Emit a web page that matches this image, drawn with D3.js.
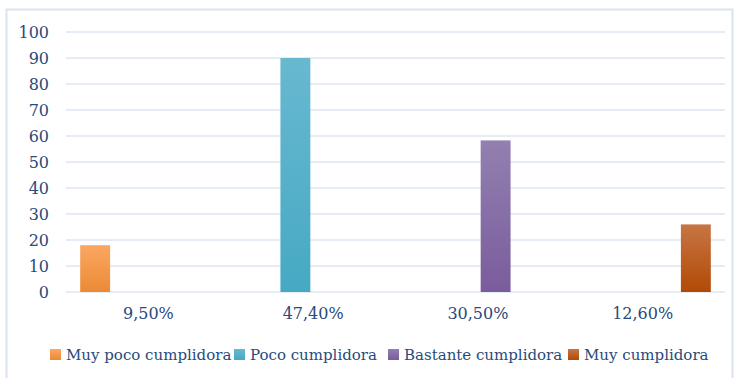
<!DOCTYPE html>
<html>
<head>
<meta charset="utf-8">
<script src="https://cdn.jsdelivr.net/npm/d3@7"></script>
<style>
  body { margin: 0; background: #fff; }
  text { font-family: "DejaVu Serif", "Liberation Serif", serif; fill: #284A7C; }
</style>
</head>
<body>
<div id="chart"></div>
<script>
// categories (x axis) and series
var categories = ["9,50%", "47,40%", "30,50%", "12,60%"];
var seriesNames = ["Muy poco cumplidora", "Poco cumplidora", "Bastante cumplidora", "Muy cumplidora"];
// each series only has a value in its own category
var seriesValues = [
    [18, null, null, null],
    [null, 90, null, null],
    [null, null, 58.3, null],
    [null, null, null, 26]
];
var yTicks = [0, 10, 20, 30, 40, 50, 60, 70, 80, 90, 100];
var colorsTop = ["#FBA762", "#68B8D0", "#9280B0", "#C77544"];
var colorsBottom = ["#EB8A35", "#46A9C4", "#7A5C9C", "#B24A06"];

var svgWidth = 734;
var svgHeight = 378;

var margin = { top: 32, right: 9, bottom: 86, left: 66 };
var width = svgWidth - margin.left - margin.right;
var height = svgHeight - margin.top - margin.bottom;

var svg = d3.select("#chart")
    .append("svg")
    .attr("width", svgWidth)
    .attr("height", svgHeight);

// outer chart border
svg.append("rect")
    .attr("x", 6.5).attr("y", 9.5)
    .attr("width", 726).attr("height", 375)
    .attr("fill", "none")
    .attr("stroke", "#D9E3F0")
    .attr("stroke-width", 2);

var defs = svg.append("defs");
seriesNames.forEach(function(s, i) {
    var g = defs.append("linearGradient")
        .attr("id", "grad" + i)
        .attr("x1", 0).attr("y1", 0).attr("x2", 0).attr("y2", 1);
    g.append("stop").attr("offset", "0%").attr("stop-color", colorsTop[i]);
    g.append("stop").attr("offset", "100%").attr("stop-color", colorsBottom[i]);
});

var chartGroup = svg.append("g")
    .attr("transform", `translate(${margin.left}, ${margin.top})`);

var xScale = d3.scaleBand()
    .domain(categories)
    .range([0, width]);

var xInner = d3.scaleBand()
    .domain(d3.range(seriesNames.length))
    .range([0, xScale.bandwidth()])
    .paddingInner(0.157)
    .paddingOuter(0.4);

var yScale = d3.scaleLinear()
    .domain([0, 100])
    .range([height, 0]);

// gridlines
chartGroup.selectAll(".grid")
    .data(yTicks)
    .enter()
    .append("line")
    .attr("x1", 0)
    .attr("x2", width)
    .attr("y1", d => yScale(d))
    .attr("y2", d => yScale(d))
    .attr("stroke", "#DCE6F2")
    .attr("stroke-width", 1.5);

// y axis labels
var yAxis = d3.axisLeft(yScale).tickValues(yTicks).tickSize(0).tickPadding(17);
var yG = chartGroup.append("g").call(yAxis);
yG.select(".domain").remove();
yG.selectAll("text")
    .attr("font-size", "16px")
    .attr("fill", "#284A7C")
    .style("font-family", "DejaVu Serif, serif");

// x axis labels
var xAxis = d3.axisBottom(xScale).tickSize(0).tickPadding(16);
var xG = chartGroup.append("g")
    .attr("transform", `translate(0, ${height})`)
    .call(xAxis);
xG.select(".domain").remove();
xG.selectAll("text")
    .attr("font-size", "16px")
    .attr("fill", "#284A7C")
    .style("font-family", "DejaVu Serif, serif");

// legend
var legendX = [50, 234, 388, 568];
var legend = svg.append("g");
seriesNames.forEach(function(s, i) {
    var item = legend.append("g").attr("transform", `translate(${legendX[i]}, 349)`);
    item.append("rect")
        .attr("width", 11).attr("height", 11)
        .attr("fill", "url(#grad" + i + ")");
    item.append("text")
        .attr("x", 16)
        .attr("y", 11)
        .attr("font-size", "15px")
        .text(s);
});

// bars
seriesNames.forEach(function(s, i) {
    var rows = categories.map((c, j) => ({ cat: c, value: seriesValues[i][j] }))
        .filter(d => d.value != null);
    chartGroup.selectAll(".bar" + i)
        .data(rows)
        .enter()
        .append("rect")
        .attr("x", d => xScale(d.cat) + xInner(i))
        .attr("y", d => yScale(d.value))
        .attr("width", xInner.bandwidth())
        .attr("height", d => height - yScale(d.value))
        .attr("fill", "url(#grad" + i + ")");
});
</script>
</body>
</html>
